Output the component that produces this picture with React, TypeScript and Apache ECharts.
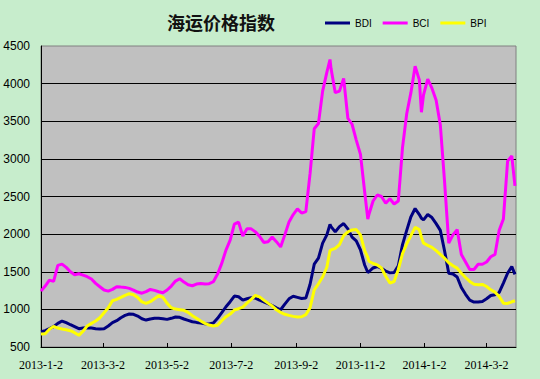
import React, { useEffect, useRef } from "react";
import * as echarts from "echarts";

// Calendar days counted from 2013-1-2
const days = [
  0, 4, 8, 12, 16, 20, 24, 28, 32, 36, 40, 44, 48, 52, 56, 60, 64, 68, 72, 76,
  80, 84, 88, 92, 96, 100, 104, 108, 112, 116, 120, 124, 128, 132, 136, 140, 144, 148, 152, 156,
  160, 164, 168, 172, 176, 180, 184, 188, 192, 196, 200, 204, 208, 212, 216, 220, 224, 228, 232, 236,
  240, 244, 248, 252, 256, 260, 264, 268, 272, 275, 276, 280, 284, 288, 292, 296, 300, 304, 308, 311,
  312, 316, 320, 324, 328, 332, 336, 340, 344, 348, 352, 356, 360, 362, 364, 368, 372, 376, 380, 384,
  388, 392, 396, 400, 404, 408, 412, 416, 420, 424, 428, 432, 436, 440, 444, 448, 451,
];

const bdi = [
  704, 717, 743, 770, 814, 845, 823, 796, 770, 743, 752, 757, 752, 743, 739, 743, 779, 823, 850, 889,
  920, 938, 934, 911, 875, 858, 872, 881, 881, 876, 867, 881, 898, 894, 872, 854, 836, 827, 819, 810,
  805, 819, 881, 956, 1035, 1102, 1177, 1168, 1123, 1141, 1154, 1150, 1123, 1101, 1075, 1050, 1020, 995, 1070, 1140,
  1175, 1160, 1145, 1150, 1330, 1600, 1680, 1880, 1990, 2130, 2100, 2030, 2100, 2140, 2070, 1960, 1910, 1790, 1590, 1490,
  1500, 1550, 1570, 1545, 1510, 1485, 1490, 1580, 1860, 2050, 2230, 2340, 2260, 2210, 2190, 2260, 2220, 2140, 2050, 1780,
  1480, 1470, 1430, 1290, 1200, 1122, 1097, 1097, 1106, 1141, 1185, 1194, 1225, 1350, 1480, 1570, 1465,
];

const bci = [
  1243, 1310, 1389, 1372, 1584, 1602, 1558, 1500, 1460, 1473, 1456, 1434, 1403, 1345, 1301, 1257, 1243, 1266, 1301, 1296,
  1292, 1279, 1257, 1230, 1215, 1235, 1265, 1252, 1235, 1221, 1257, 1310, 1376, 1407, 1363, 1327, 1314, 1336, 1345, 1336,
  1341, 1367, 1469, 1611, 1788, 1920, 2133, 2160, 1975, 2070, 2070, 2030, 1970, 1890, 1900, 1960, 1900, 1830, 1990, 2160,
  2260, 2335, 2280, 2300, 2800, 3400, 3470, 3900, 4150, 4320, 4200, 3880, 3900, 4070, 3540, 3460, 3250, 3060, 2560, 2200,
  2260, 2440, 2520, 2500, 2410, 2470, 2400, 2440, 3150, 3600, 3880, 4230, 4050, 3620, 3850, 4060, 3940, 3780, 3450, 2700,
  1880, 1990, 2060, 1730, 1630, 1530, 1530, 1600, 1600, 1630, 1700, 1730, 2050, 2200, 2970, 3040, 2640,
];

const bpi = [
  673, 677, 735, 774, 752, 739, 730, 717, 690, 655, 710, 780, 814, 845, 889, 956, 1022, 1115, 1133, 1159,
  1186, 1208, 1195, 1159, 1100, 1080, 1102, 1142, 1181, 1159, 1080, 1022, 1004, 996, 987, 960, 916, 881, 845, 814,
  792, 779, 788, 850, 903, 938, 991, 1009, 1030, 1083, 1132, 1185, 1167, 1123, 1083, 1044, 995, 960, 935, 920,
  907, 900, 902, 930, 1020, 1260, 1340, 1430, 1560, 1780, 1790, 1810, 1860, 1980, 2030, 2055, 2060, 1990, 1780, 1690,
  1640, 1610, 1590, 1550, 1440, 1350, 1370, 1530, 1740, 1870, 1980, 2090, 2060, 1960, 1880, 1850, 1825, 1780, 1730, 1680,
  1620, 1580, 1548, 1481, 1424, 1371, 1335, 1327, 1331, 1304, 1260, 1229, 1172, 1083, 1079, 1101, 1114,
];

const seriesNames = ["BDI", "BCI", "BPI"];
const seriesColors = ["#000080", "#ff00ff", "#ffff00"];

const tickDays = [0, 59, 120, 181, 243, 304, 365, 424];
const tickLabels = [
  "2013-1-2", "2013-3-2", "2013-5-2", "2013-7-2", "2013-9-2", "2013-11-2", "2014-1-2", "2014-3-2",
];

const title = "海运价格指数";

export default function App() {
  const ref = useRef<HTMLDivElement>(null);
  useEffect(() => {
    if (!ref.current) return;
    const chart = echarts.init(ref.current, undefined, { renderer: "svg" });
    const all = [bdi, bci, bpi];
    chart.setOption({
      animation: false,
      backgroundColor: "#c7edcc",
      title: {
        text: title,
        left: 162,
        top: 8,
        textStyle: {
          fontSize: 18,
          fontWeight: "bold",
          color: "#111",
          fontFamily: "Noto Sans CJK SC",
        },
      },
      legend: {
        left: 320,
        top: 13,
        itemWidth: 25,
        itemHeight: 3,
        itemGap: 11,
        icon: "rect",
        data: seriesNames,
        textStyle: { fontSize: 10, fontFamily: "Liberation Sans", color: "#000" },
      },
      grid: {
        left: 41,
        right: 24,
        top: 46,
        bottom: 32,
        show: true,
        backgroundColor: "#c0c0c0",
        borderColor: "#808080",
        borderWidth: 1,
      },
      xAxis: {
        type: "value",
        min: 0,
        max: 452,
        splitLine: { show: false },
        axisLine: { show: true, lineStyle: { color: "#000", width: 1 } },
        axisTick: {
          show: true,
          inside: true,
          length: 4,
          customValues: tickDays.slice(1),
          lineStyle: { color: "#000" },
        },
        axisLabel: {
          customValues: tickDays,
          margin: 12,
          fontSize: 12,
          fontFamily: "Liberation Serif",
          color: "#000",
          formatter: (v: number) => {
            const i = tickDays.indexOf(Math.round(v));
            return i >= 0 ? tickLabels[i] : "";
          },
        },
      },
      yAxis: {
        type: "value",
        min: 500,
        max: 4500,
        interval: 500,
        axisLine: { show: true, lineStyle: { color: "#000", width: 1 } },
        axisTick: { show: false },
        splitLine: {
          show: true,
          showMaxLine: false,
          lineStyle: { color: "#000", width: 1 },
        },
        axisLabel: {
          margin: 11,
          fontSize: 12,
          fontFamily: "Liberation Sans",
          color: "#000",
          formatter: (v: number) => String(v),
        },
      },
      series: seriesNames.map((name, si) => ({
        name,
        type: "line",
        showSymbol: false,
        symbol: "none",
        color: seriesColors[si],
        lineStyle: { width: 3, color: seriesColors[si] },
        data: days.map((d, i) => [d, all[si][i]]),
      })),
    });
    return () => chart.dispose();
  }, []);
  return (
    <div
      ref={ref}
      style={{ position: "fixed", left: 0, top: 0, width: 540, height: 379 }}
    />
  );
}
